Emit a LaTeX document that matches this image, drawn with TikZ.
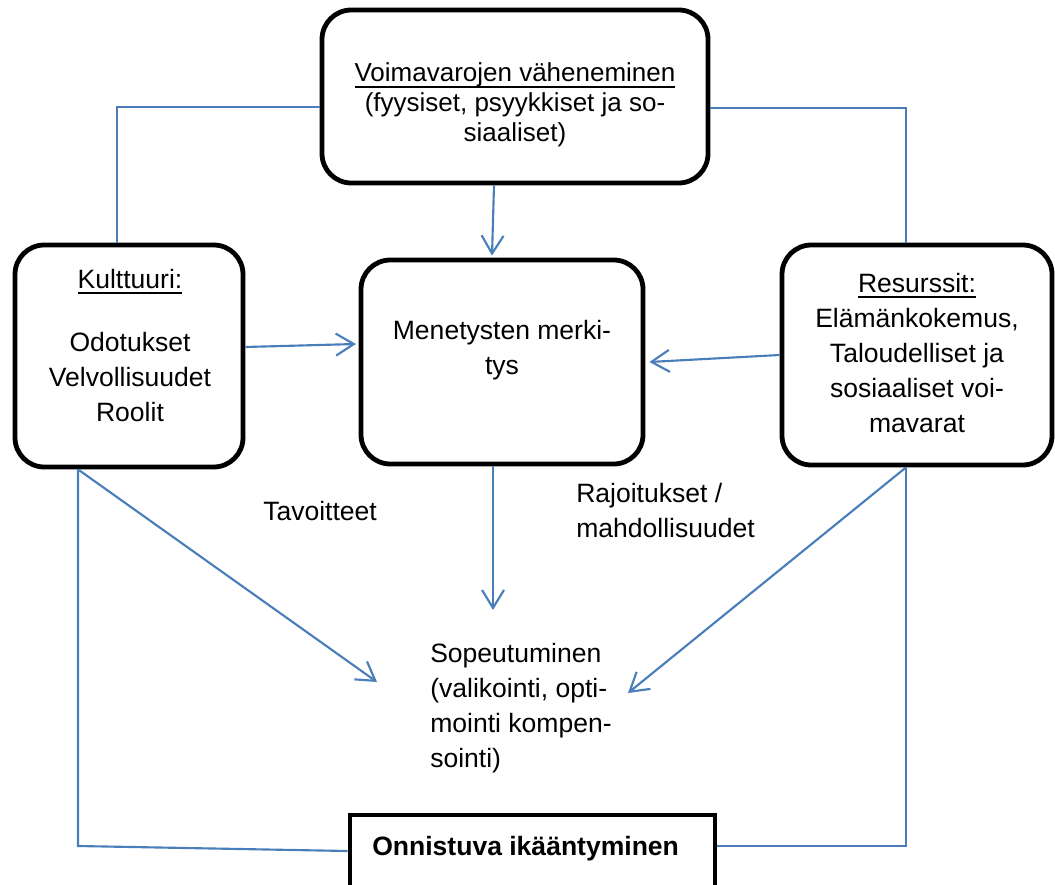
\documentclass[tikz,border=0pt]{standalone}
\usepackage{fontspec}
\setmainfont{Liberation Sans}
\usetikzlibrary{arrows.meta}
\definecolor{linkblue}{RGB}{74,126,187}
\newcommand\myul[1]{\setbox0\hbox{#1}\rlap{\rule[-4.6pt]{\wd0}{1.4pt}}\box0}
\begin{document}
\begin{tikzpicture}[x=0.75pt,y=-0.75pt,
  box/.style={draw=black,line width=3.6pt,rounded corners=22pt,inner sep=0pt},
  sqbox/.style={draw=black,line width=3.6pt,inner sep=0pt},
  conn/.style={draw=linkblue,line width=1.6pt},
  arr/.style={conn,-{Straight Barb[length=13.5pt,width=16.5pt,line width=1.6pt]}},
  txt/.style={font=\fontsize{19.9}{26.25}\selectfont,inner sep=0pt,align=center,anchor=base},
  ltxt/.style={txt,align=left,anchor=base west}]
\useasboundingbox (0,0) rectangle (1055,884);

% boxes
\node[box,minimum width=289.5pt,minimum height=129.75pt] (top) at (515,96.5) {};
\node[box,minimum width=171pt,minimum height=166.5pt] (left) at (129,356) {};
\node[box,minimum width=211.5pt,minimum height=153pt] (center) at (502,362) {};
\node[box,minimum width=202.5pt,minimum height=165pt] (right) at (917,355) {};
\node[sqbox,minimum width=273.75pt,minimum height=54pt] (bottom) at (532.5,851) {};

% free ends
\coordinate (tipM) at (493,610);
\coordinate (tipL) at (377,682);
\coordinate (tipR) at (628,693);
\coordinate (cornL) at (78,846);

% connectors
\draw[conn] ([yshift=-7.9pt]top.west) -| ([xshift=-9pt]left.north);
\draw[conn] ([yshift=-8.6pt]top.east) -| ([xshift=-8.25pt]right.north);
\draw[arr] ([xshift=-15.75pt]top.south) -- ([xshift=-7.5pt,yshift=1.5pt]center.north);
\draw[arr] ([yshift=6.75pt]left.east) -- ([yshift=13.5pt,xshift=-2pt]center.west);
\draw[arr] (right.west) -- ([xshift=3pt]center.east);
\draw[arr] ([xshift=-6.75pt]center.south) -- (tipM);
\draw[arr] ([xshift=-38.25pt]left.south) -- (tipL);
\draw[conn] ([xshift=-38.25pt]left.south) -- (cornL) -- (bottom.west);
\draw[arr] ([xshift=-8.25pt]right.south) -- (tipR);
\draw[conn] ([xshift=-8.25pt]right.south) |- ([yshift=3.75pt]bottom.east);

% texts (base anchor = baseline of last line)
\node[txt,font=\fontsize{19.5}{22.5}\selectfont] (ttop) at (515,142)
  {\myul{Voimavarojen väheneminen}\\(fyysiset, psyykkiset ja so-\\siaaliset)};
\node[txt] (tleft) at (130,421)
  {\myul{Kulttuuri:}\\[21pt]Odotukset\\Velvollisuudet\\Roolit};
\node[txt] (tmid) at (502,374) {Menetysten merki-\\tys};
\node[txt] (tright) at (917,432)
  {\myul{Resurssit:}\\Elämänkokemus,\\Taloudelliset ja\\sosiaaliset voi-\\mavarat};
\node[ltxt] (tav) at (263,520) {Tavoitteet};
\node[ltxt] (raj) at (576,537) {Rajoitukset /\\mahdollisuudet};
\node[ltxt] (sop) at (430,767) {Sopeutuminen\\(valikointi, opti-\\mointi kompen-\\sointi)};
\node[ltxt,font=\fontsize{19.9}{26.25}\selectfont\bfseries] (onn) at (372,855) {Onnistuva ikääntyminen};
\end{tikzpicture}
\end{document}
